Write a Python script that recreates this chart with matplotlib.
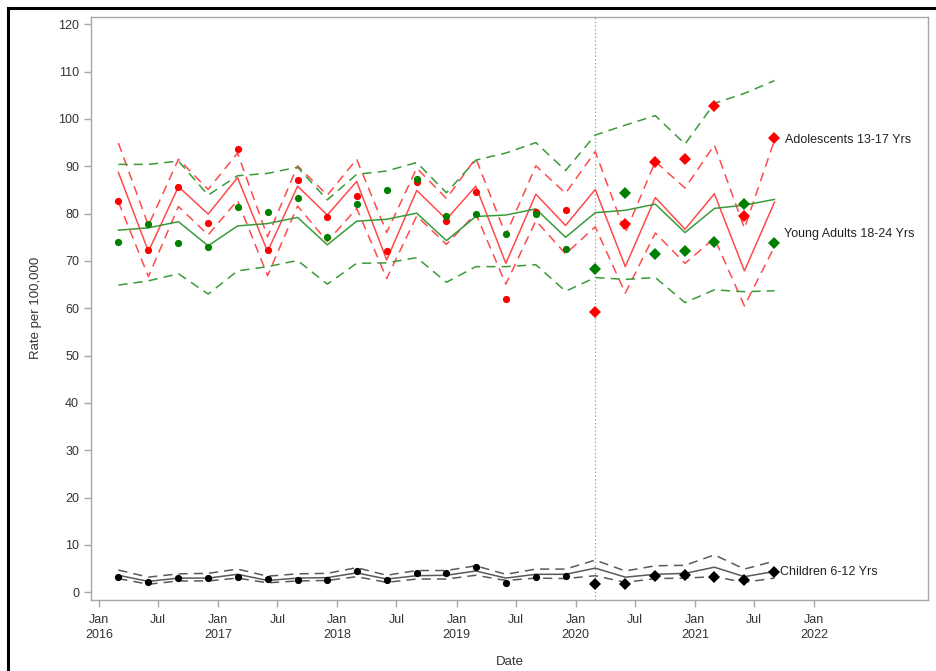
import matplotlib
matplotlib.use("Agg")
import matplotlib.pyplot as plt
import matplotlib.dates as mdates
from matplotlib.lines import Line2D
import pandas as pd

plt.rcParams['font.family'] = ['Liberation Sans', 'DejaVu Sans']

dates = ["2016-03-01", "2016-06-01", "2016-09-01", "2016-12-01",
         "2017-03-01", "2017-06-01", "2017-09-01", "2017-12-01",
         "2018-03-01", "2018-06-01", "2018-09-01", "2018-12-01",
         "2019-03-01", "2019-06-01", "2019-09-01", "2019-12-01",
         "2020-03-01", "2020-06-01", "2020-09-01", "2020-12-01",
         "2021-03-01", "2021-06-01", "2021-09-01"]
n_pre = 16  # circles before Mar 2020, diamonds after

ado_obs = [82.7, 72.3, 85.7, 78.0, 93.7, 72.3, 87.1, 79.2, 83.8, 72.0, 86.6, 78.4,
           84.6, 61.9, 80.4, 80.7, 59.2, 77.8, 90.9, 91.5, 102.7, 79.5, 96.0]
ado_fit = [88.7, 72.0, 85.7, 79.9, 87.6, 72.0, 85.8, 79.7, 86.8, 70.2, 84.9, 78.8,
           85.8, 69.5, 84.1, 77.5, 85.1, 68.8, 83.4, 76.7, 84.2, 67.9, 82.4]
ado_up = [94.9, 77.5, 91.5, 85.1, 92.8, 75.1, 90.1, 83.9, 91.5, 76.0, 89.6, 83.2,
          91.7, 75.5, 90.1, 84.3, 93.1, 75.9, 91.0, 85.4, 94.5, 76.9, 95.5]
ado_lo = [82.5, 66.7, 81.5, 75.5, 82.8, 66.9, 81.6, 74.1, 81.1, 66.3, 79.5, 73.5,
          80.0, 65.1, 78.5, 71.5, 77.2, 63.2, 75.9, 69.5, 74.8, 60.5, 73.0]

ya_obs = [74.1, 77.8, 73.7, 73.0, 81.3, 80.3, 83.4, 75.1, 82.1, 85.0, 87.4, 79.4,
          79.9, 75.7, 79.9, 72.5, 68.2, 84.3, 71.4, 72.0, 74.0, 82.0, 73.8]
ya_fit = [76.5, 77.0, 78.3, 73.2, 77.4, 77.9, 79.2, 73.4, 78.4, 78.8, 80.1, 74.3,
          79.4, 79.7, 81.0, 75.0, 80.2, 80.7, 82.0, 76.0, 81.1, 81.8, 83.0]
ya_up = [90.4, 90.4, 91.1, 83.9, 88.0, 88.5, 89.8, 82.9, 88.3, 89.0, 90.8, 84.4,
         91.3, 92.8, 95.0, 89.1, 96.6, 98.7, 100.7, 94.7, 103.3, 105.4, 108.1]
ya_lo = [64.9, 65.8, 67.3, 63.0, 67.9, 68.8, 70.1, 65.1, 69.5, 69.6, 70.7, 65.5,
         68.8, 68.8, 69.2, 63.6, 66.5, 66.1, 66.5, 61.2, 63.9, 63.5, 63.7]

ch_obs = [3.3, 2.2, 3.1, 3.1, 3.2, 2.9, 2.5, 2.7, 4.4, 2.5, 4.1, 4.0,
          5.4, 1.9, 3.2, 3.5, 1.7, 1.7, 3.4, 3.6, 3.2, 2.5, 4.3]
ch_fit = [3.6, 2.3, 3.0, 3.0, 3.8, 2.5, 3.0, 3.1, 4.1, 2.8, 3.5, 3.6,
          4.5, 3.0, 3.8, 3.8, 5.1, 3.2, 3.8, 4.0, 5.3, 3.3, 4.4]
ch_up = [4.7, 3.2, 3.9, 4.0, 4.9, 3.4, 3.9, 4.0, 5.2, 3.6, 4.6, 4.6,
         5.6, 3.8, 4.9, 4.9, 6.8, 4.5, 5.6, 5.7, 7.9, 4.9, 6.6]
ch_lo = [2.9, 1.7, 2.4, 2.4, 3.0, 2.0, 2.4, 2.5, 3.3, 2.1, 2.8, 2.8,
         3.6, 2.5, 3.0, 2.9, 3.5, 2.1, 2.9, 3.0, 3.3, 2.1, 3.0]

series_labels = ["Adolescents 13-17 Yrs", "Young Adults 18-24 Yrs", "Children 6-12 Yrs"]
yticks = [0, 10, 20, 30, 40, 50, 60, 70, 80, 90, 100, 110, 120]
xtick_dates = ["2016-01-01", "2016-07-01", "2017-01-01", "2017-07-01", "2018-01-01",
               "2018-07-01", "2019-01-01", "2019-07-01", "2020-01-01", "2020-07-01",
               "2021-01-01", "2021-07-01", "2022-01-01"]
xtick_labels = ["Jan\n2016", "Jul", "Jan\n2017", "Jul", "Jan\n2018", "Jul", "Jan\n2019",
                "Jul", "Jan\n2020", "Jul", "Jan\n2021", "Jul", "Jan\n2022"]
intervention_date = "2020-03-01"

x = pd.to_datetime(dates)

fig = plt.figure(figsize=(9.37, 6.71), dpi=100)
ax = fig.add_axes([0.0971, 0.1058, 0.8935, 0.8693])

red_line = '#FF4B4B'
green_line = '#3A9A3A'
gray_line = '#5A5A5A'
dash = (0, (6, 4))
lw = 1.1

series = [
    (ado_obs, ado_fit, ado_up, ado_lo, '#FF0000', red_line),
    (ya_obs, ya_fit, ya_up, ya_lo, '#008000', green_line),
    (ch_obs, ch_fit, ch_up, ch_lo, '#000000', gray_line),
]

# lines first
for obs, fit, up, lo, mc, lc in series:
    ax.plot(x, fit, color=lc, lw=lw, zorder=2)
    ax.plot(x, up, color=lc, lw=lw, linestyle=dash, zorder=2)
    ax.plot(x, lo, color=lc, lw=lw, linestyle=dash, zorder=2)

# markers
for obs, fit, up, lo, mc, lc in series:
    ax.plot(x[:n_pre], obs[:n_pre], linestyle='none', marker='o', ms=5.2,
            color=mc, markeredgewidth=0, zorder=3)
    ax.plot(x[n_pre:], obs[n_pre:], linestyle='none', marker='D', ms=6.0,
            color=mc, markeredgewidth=0, zorder=3)

ax.axvline(pd.Timestamp(intervention_date), color='#9A9A9A', lw=0.9,
           linestyle=(0, (1, 2)), zorder=1)

# end labels
ax.annotate(series_labels[0], xy=(x[-1], ado_obs[-1]), xytext=(11, -2),
            textcoords='offset pixels', va='center', ha='left', fontsize=9, color='#222222')
ax.annotate(series_labels[1], xy=(x[-1], ya_obs[-1]), xytext=(10, 9),
            textcoords='offset pixels', va='center', ha='left', fontsize=9, color='#222222')
ax.annotate(series_labels[2], xy=(x[-1], ch_obs[-1]), xytext=(6, 0),
            textcoords='offset pixels', va='center', ha='left', fontsize=9, color='#222222')

ax.set_xlim(pd.Timestamp("2015-12-08"), pd.Timestamp("2022-12-16"))
ax.set_ylim(-1.63, 121.6)
ax.set_yticks(yticks)
ax.set_yticklabels([str(v) for v in yticks])
ax.set_xticks(pd.to_datetime(xtick_dates))
ax.set_xticklabels(xtick_labels, linespacing=1.35)

for s in ax.spines.values():
    s.set_color('#A8A8A8')
    s.set_linewidth(1.0)
ax.tick_params(axis='both', colors='#A8A8A8', labelcolor='#333333', labelsize=9,
               length=5, width=1.0, direction='out')
ax.tick_params(axis='x', pad=5)

ax.set_ylabel("Rate per 100,000", fontsize=9.5, color='#333333', labelpad=12)
ax.set_xlabel("Date", fontsize=9.5, color='#333333', labelpad=11)

# black frame (top and left visible)
fig.add_artist(Line2D([8 / 937, 1.0], [1 - 8 / 671, 1 - 8 / 671], color='black', lw=2.2,
                      transform=fig.transFigure))
fig.add_artist(Line2D([8 / 937, 8 / 937], [0.0, 1 - 8 / 671], color='black', lw=2.2,
                      transform=fig.transFigure))

fig.savefig("out.png", dpi=100)
